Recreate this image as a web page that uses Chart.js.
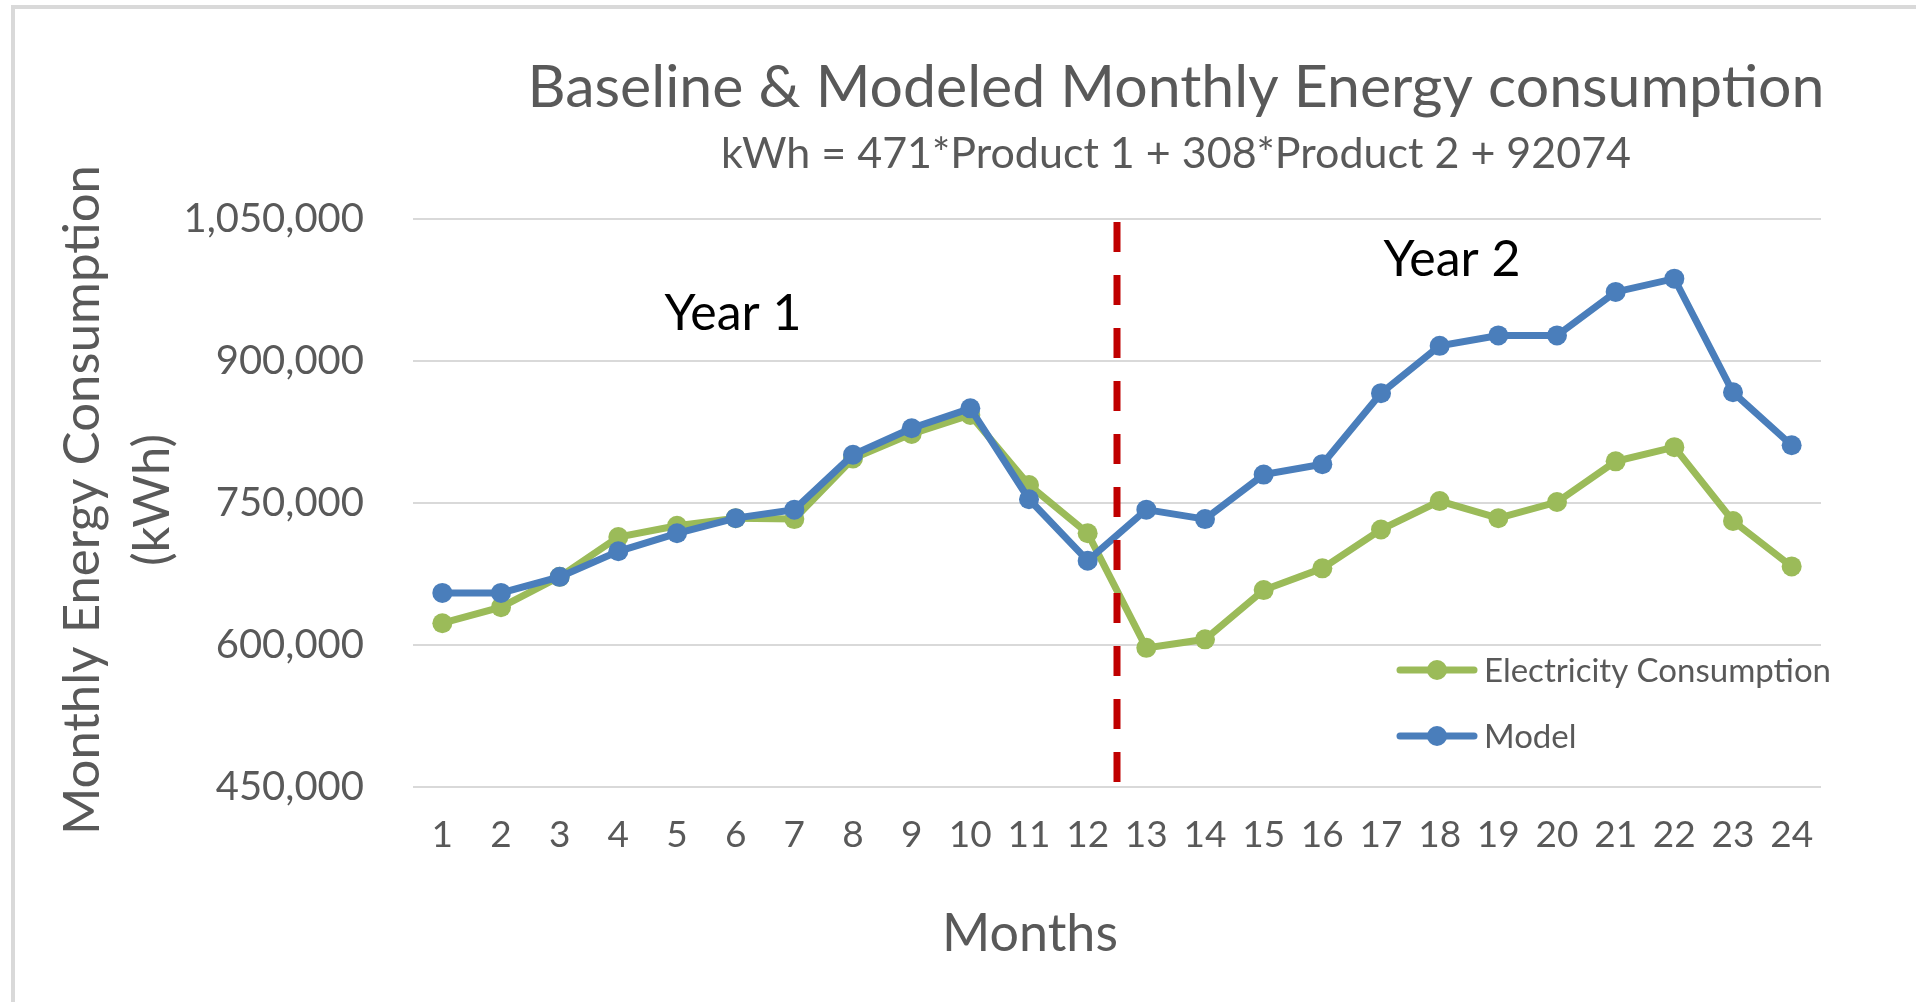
<!DOCTYPE html>
<html>
<head>
<meta charset="utf-8">
<script src="https://cdn.jsdelivr.net/npm/chart.js@4.4.0/dist/chart.umd.min.js"></script>
<style>
  html, body { margin: 0; padding: 0; background: #fff; overflow: hidden; }
  canvas { display: block; }
</style>
</head>
<body>
<canvas id="myChart" width="1916" height="1002"></canvas>
<script>
const months = ['1','2','3','4','5','6','7','8','9','10','11','12','13','14','15','16','17','18','19','20','21','22','23','24'];
const electricity = [623000, 640000, 672000, 714000, 726000, 734000, 733000, 797000, 823000, 843000, 769000, 718000,
                     597000, 606000, 658000, 681000, 722000, 752000, 734000, 751000, 794000, 809000, 731000, 683000];
const model = [655000, 655000, 672000, 699000, 718000, 734000, 743000, 801000, 829000, 850000, 754000, 689000,
               743000, 733000, 780000, 791000, 866000, 916000, 927000, 927000, 973000, 987000, 867000, 811000];
const yTicks = [450000, 600000, 750000, 900000, 1050000];

const titleText = 'Baseline & Modeled Monthly Energy consumption';
const subtitleText = 'kWh = 471*Product 1 + 308*Product 2 + 92074';
const yTitle = ['Monthly Energy Consumption', '(kWh)'];
const xTitle = 'Months';
const yearLabels = ['Year 1', 'Year 2'];

const GREEN = '#9BBB59';
const BLUE = '#4A7EBB';
const GREY = '#595959';
const FONT = 'Lato';

// textes, legende, ligne rouge
const overlay = {
  id: 'overlay',
  beforeDraw(chart) {
    const c = chart.ctx;
    c.save();
    c.strokeStyle = '#d9d9d9';
    c.lineWidth = 4;
    c.beginPath();
    c.moveTo(13, 1010);
    c.lineTo(13, 7);
    c.lineTo(1930, 7);
    c.stroke();
    c.restore();
  },
  afterDatasetsDraw(chart) {
    const c = chart.ctx;
    const x = chart.scales.x;
    const area = chart.chartArea;
    const mid = (x.getPixelForValue(11) + x.getPixelForValue(12)) / 2;

    c.save();
    c.strokeStyle = '#C00000';
    c.lineWidth = 7;
    c.setLineDash([30, 23]);
    c.beginPath();
    c.moveTo(mid, area.top + 3);
    c.lineTo(mid, area.bottom);
    c.stroke();
    c.setLineDash([]);

    c.fillStyle = GREY;
    c.textAlign = 'center';
    c.textBaseline = 'middle';
    c.font = `59px ${FONT}`;
    c.fillText(titleText, 1176, 88);
    c.font = `43px ${FONT}`;
    c.fillText(subtitleText, 1176, 154);
    c.font = `52px ${FONT}`;
    c.fillText(xTitle, 1030, 934);

    c.save();
    c.translate(83, 500);
    c.rotate(-Math.PI / 2);
    c.font = `51px ${FONT}`;
    c.fillText(yTitle[0], 0, 0);
    c.translate(0, 70);
    c.fillText(yTitle[1], 0, 0);
    c.restore();

    c.fillStyle = '#000';
    c.font = `50px ${FONT}`;
    c.fillText(yearLabels[0], 733, 314);
    c.fillText(yearLabels[1], 1452, 260);

    // legende
    const items = [[chart.data.datasets[1].label, GREEN, 670], [chart.data.datasets[0].label, BLUE, 736]];
    c.font = `33px ${FONT}`;
    c.textAlign = 'left';
    items.forEach(([lbl, col, y]) => {
      c.strokeStyle = col;
      c.lineWidth = 7;
      c.lineCap = 'round';
      c.beginPath();
      c.moveTo(1400, y);
      c.lineTo(1474, y);
      c.stroke();
      c.fillStyle = col;
      c.beginPath();
      c.arc(1437, y, 10, 0, Math.PI * 2);
      c.fill();
      c.fillStyle = GREY;
      c.fillText(lbl, 1484, y + 1);
    });
    c.restore();
  }
};

const ctxt = document.getElementById('myChart').getContext('2d');

const myChart = new Chart(ctxt, {
  type: 'line',
  data: {
    labels: months,
    datasets: [
      {
        label: 'Model',
        data: model,
        borderColor: BLUE,
        backgroundColor: BLUE,
        borderWidth: 7,
        pointRadius: 10,
        pointBorderWidth: 0,
        tension: 0,
        order: 0
      },
      {
        label: 'Electricity Consumption',
        data: electricity,
        borderColor: GREEN,
        backgroundColor: GREEN,
        borderWidth: 7,
        pointRadius: 10,
        pointBorderWidth: 0,
        tension: 0,
        order: 1
      }
    ]
  },
  options: {
    responsive: false,
    animation: false,
    layout: { padding: { left: 0, top: 219, right: 95, bottom: 0 } },
    plugins: {
      legend: { display: false },
      title: { display: false },
      tooltip: { enabled: false }
    },
    scales: {
      x: {
        offset: true,
        grid: { display: false, drawTicks: false },
        border: { display: false },
        ticks: { color: GREY, font: { family: FONT, size: 37 }, padding: 26, maxRotation: 0, autoSkip: false },
        afterFit: (s) => { s.height = 215; }
      },
      y: {
        min: yTicks[0],
        max: yTicks[yTicks.length - 1],
        afterBuildTicks: (s) => { s.ticks = yTicks.map(v => ({ value: v })); },
        grid: { color: '#d9d9d9', lineWidth: 2, drawTicks: false },
        border: { display: false },
        ticks: {
          color: GREY,
          font: { family: FONT, size: 40 },
          padding: 49,
          callback: (v) => Number(v).toLocaleString('en-US')
        },
        afterFit: (s) => { s.width = 413; }
      }
    }
  },
  plugins: [overlay]
});
</script>
</body>
</html>
